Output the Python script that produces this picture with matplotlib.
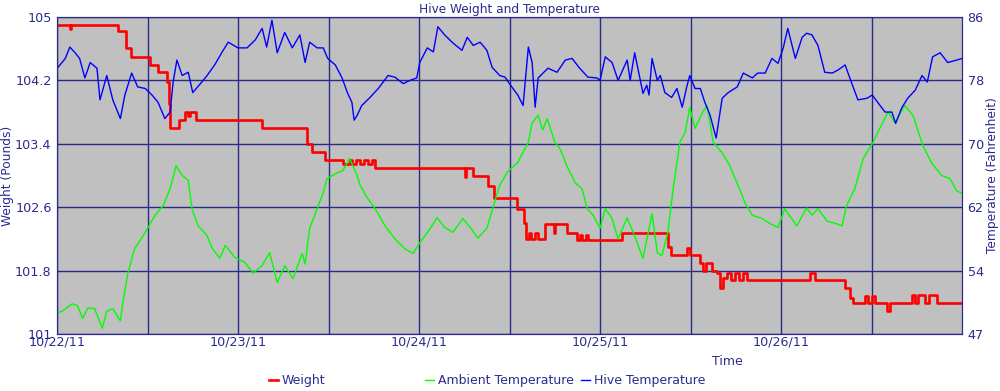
import datetime as dt
import matplotlib
matplotlib.use("Agg")
import matplotlib.pyplot as plt
import matplotlib.dates as mdates
from matplotlib.ticker import FixedLocator

# hours after 10/22/11 00:00, weight in pounds (step series)
weight_hours = [0.0, 1.7, 1.9, 8.1, 9.1, 9.8, 12.3, 13.4, 14.6, 14.8, 15.0, 16.2, 17.0, 17.4,
                17.6, 18.4, 27.2, 33.1, 33.8, 35.5, 37.9, 38.8, 39.1, 39.6, 40.2, 40.7, 41.2,
                41.8, 42.2, 54.1, 54.2, 55.2, 57.1, 57.9, 61.0, 61.9, 62.2, 62.6, 62.8, 63.4,
                63.8, 64.7, 65.9, 66.0, 67.6, 68.9, 69.3, 69.6, 70.1, 70.4, 74.9, 81.0, 81.4,
                83.5, 83.9, 85.3, 85.7, 86.0, 86.8, 87.5, 87.9, 88.3, 88.8, 89.4, 89.9, 90.4,
                91.0, 91.5, 99.8, 100.5, 104.5, 105.1, 105.5, 107.1, 107.5, 108.0, 108.5,
                110.1, 110.5, 113.4, 113.8, 114.2, 115.1, 115.6, 116.7, 120.0]
weight = [104.90, 104.85, 104.90, 104.82, 104.61, 104.49, 104.40, 104.31, 104.18, 103.90, 103.60,
          103.70, 103.80, 103.75, 103.80, 103.70, 103.60, 103.40, 103.29, 103.19, 103.15, 103.19,
          103.15, 103.19, 103.15, 103.19, 103.15, 103.19, 103.10, 102.98, 103.10, 102.99, 102.87,
          102.71, 102.58, 102.40, 102.20, 102.27, 102.20, 102.27, 102.20, 102.39, 102.28, 102.39,
          102.28, 102.19, 102.25, 102.19, 102.25, 102.19, 102.28, 102.10, 102.00, 102.09, 102.00,
          101.89, 101.80, 101.89, 101.80, 101.77, 101.58, 101.70, 101.77, 101.68, 101.77, 101.68,
          101.77, 101.68, 101.77, 101.68, 101.58, 101.45, 101.39, 101.48, 101.39, 101.48, 101.39,
          101.29, 101.39, 101.49, 101.39, 101.49, 101.39, 101.49, 101.39, 101.39]

# ambient temperature (F)
ambient_hours = [0.0, 0.7, 2.0, 2.7, 3.4, 4.1, 5.0, 6.0, 6.6, 7.4, 8.4, 8.8, 9.4, 10.3, 11.7,
                 13.0, 14.1, 15.0, 15.8, 16.6, 17.4, 17.9, 18.7, 19.9, 20.6, 21.6, 22.3, 23.6,
                 24.9, 26.0, 27.2, 28.2, 29.2, 30.2, 31.3, 32.5, 32.9, 33.5, 34.5, 35.3, 35.8,
                 36.9, 37.9, 38.8, 39.8, 40.2, 41.1, 42.2, 43.5, 44.8, 46.1, 47.2, 48.1, 49.5,
                 50.4, 51.4, 52.5, 53.8, 54.8, 55.8, 57.0, 57.8, 58.7, 59.7, 61.1, 62.5, 63.0,
                 63.8, 64.4, 65.0, 66.0, 66.7, 67.6, 68.7, 69.6, 70.3, 71.1, 72.0, 72.7, 73.6,
                 74.4, 75.6, 76.4, 77.7, 78.9, 79.6, 80.2, 81.0, 81.7, 82.6, 83.3, 83.9, 84.6,
                 85.5, 86.2, 87.0, 88.2, 89.2, 90.3, 91.2, 92.2, 93.5, 94.5, 95.6, 96.5, 98.1,
                 99.4, 100.1, 100.9, 102.1, 103.2, 104.1, 104.7, 105.8, 106.9, 108.1, 109.1,
                 110.2, 111.1, 112.4, 113.5, 114.8, 116.0, 117.3, 118.4, 119.3, 120.0]
ambient = [49.6, 49.8, 50.7, 50.5, 48.9, 50.2, 50.1, 47.7, 49.8, 50.1, 48.6, 51.3, 54.5, 57.5, 59.5,
           61.6, 62.8, 64.9, 67.7, 66.5, 65.9, 62.4, 60.3, 59.1, 57.5, 56.3, 57.9, 56.4,
           55.8, 54.5, 55.4, 57.0, 53.3, 55.4, 53.8, 56.9, 55.6, 60.0, 62.4, 64.4, 66.1,
           66.7, 67.1, 68.6, 66.5, 65.3, 63.8, 62.4, 60.3, 58.7, 57.5, 56.9, 58.2, 60.0,
           61.3, 60.1, 59.5, 61.2, 60.1, 58.8, 60.0, 62.5, 65.3, 66.9, 68.1, 70.6, 73.0,
           73.9, 72.1, 73.5, 70.6, 69.8, 67.7, 65.6, 64.9, 62.4, 61.6, 60.0, 62.4, 61.2,
           58.7, 61.3, 59.5, 56.3, 61.8, 57.0, 56.6, 59.5, 64.9, 70.6, 71.8, 74.9, 72.3,
           74.1, 75.1, 70.6, 69.3, 67.7, 65.3, 63.2, 61.6, 61.2, 60.6, 60.1, 62.4, 60.3,
           62.5, 61.6, 62.4, 60.9, 60.6, 60.3, 62.8, 64.9, 68.6, 70.4, 72.3,
           74.3, 73.0, 75.1, 73.9, 70.2, 68.0, 66.5, 66.1, 64.6, 64.3]

# hive temperature (F)
hive_hours = [0.0, 0.4, 1.1, 1.7, 2.4, 3.0, 3.7, 4.4, 5.3, 5.7, 6.6, 7.4, 8.4, 9.0, 9.9, 10.7,
              11.7, 12.6, 13.4, 14.3, 15.0, 15.4, 15.9, 16.6, 17.4, 18.0, 19.2, 19.9, 20.9,
              21.9, 22.7, 24.0, 25.2, 26.3, 27.2, 27.8, 28.5, 29.2, 30.2, 31.2, 32.2, 32.9,
              33.5, 34.5, 35.3, 35.9, 36.9, 37.8, 38.5, 39.1, 39.4, 39.8, 40.4, 41.5, 42.6,
              43.9, 44.8, 45.9, 46.8, 47.7, 48.1, 49.1, 49.9, 50.5, 51.4, 52.5, 53.7, 54.4,
              55.2, 56.1, 57.0, 57.7, 58.7, 59.4, 60.3, 61.1, 61.8, 62.5, 63.0, 63.4, 63.8,
              65.1, 66.3, 67.4, 68.3, 69.3, 70.4, 71.6, 72.0, 72.7, 73.6, 74.4, 75.6, 76.0,
              76.6, 77.7, 78.2, 78.5, 78.9, 79.6, 80.0, 80.6, 81.5, 82.2, 82.9, 83.5, 83.9,
              84.6, 85.3, 85.9, 86.6, 87.4, 88.2, 89.0, 90.2, 91.0, 92.2, 92.9, 93.9, 94.8,
              95.6, 96.3, 96.9, 97.9, 98.8, 99.4, 100.1, 100.9, 101.8, 102.8, 103.6, 104.5,
              105.4, 106.2, 107.4, 108.1, 108.9, 109.8, 110.7, 111.2, 112.0, 112.8, 113.8,
              114.7, 115.4, 116.1, 117.1, 118.1, 119.3, 120.0]
hive = [79.7, 80.1, 80.9, 82.3, 81.6, 80.9, 78.5, 80.4, 79.7, 75.8, 78.8, 75.8, 73.5, 76.4, 79.1, 77.4,
        77.2, 76.4, 75.5, 73.5, 74.3, 78.0, 80.7, 78.8, 79.2, 76.7, 78.0, 78.8, 80.1,
        81.7, 82.9, 82.2, 82.2, 83.2, 84.6, 82.3, 85.6, 81.6, 84.1, 82.2, 83.8, 80.4,
        82.9, 82.2, 82.2, 80.9, 80.1, 78.5, 76.7, 75.5, 73.3, 73.9, 75.1, 76.1, 77.2,
        78.8, 78.6, 77.8, 78.2, 78.5, 80.4, 82.2, 81.7, 84.8, 83.8, 82.8, 81.9, 83.5,
        82.5, 82.9, 81.9, 79.8, 78.8, 78.6, 77.4, 76.4, 75.1, 82.3, 80.4, 74.9, 78.5,
        79.7, 79.2, 80.7, 80.9, 79.7, 78.6, 78.5, 78.2, 81.1, 80.4, 78.2, 80.7, 78.2,
        81.6, 76.6, 77.6, 76.4, 80.9, 78.2, 78.8, 76.7, 76.1, 77.2, 74.9, 77.4, 78.8,
        77.2, 77.2, 75.5, 73.9, 71.1, 76.0, 76.7, 77.4, 79.1, 78.5, 79.1, 79.1, 80.9,
        80.3, 82.2, 84.6, 80.9, 83.5, 84.0, 83.8, 82.5, 79.2, 79.1, 79.5, 80.1,
        77.8, 75.8, 76.0, 76.4, 75.4, 74.3, 74.3, 72.9, 74.8, 76.0, 77.0,
        78.8, 78.0, 81.1, 81.6, 80.4, 80.7, 80.9]

weight_ticks = [101, 101.8, 102.6, 103.4, 104.2, 105]
weight_tick_labels = ['101', '101.8', '102.6', '103.4', '104.2', '105']
temp_tick_labels = ['47', '54', '62', '70', '78', '86']

start = dt.datetime(2011, 10, 22)


def to_time(hours):
    return [start + dt.timedelta(hours=h) for h in hours]


NAVY = '#2b2b8f'
GRID = '#2a2a8a'
plt.rcParams['font.family'] = 'DejaVu Sans'

fig = plt.figure(figsize=(10, 3.91), dpi=100)
ax = fig.add_axes([0.057, 0.146, 0.905, 0.8105])
ax.set_facecolor('#c0c0c0')
ax2 = ax.twinx()

l_w, = ax.plot(to_time(weight_hours), weight, color='#ff0000', lw=1.9,
               drawstyle='steps-post', label='Weight', zorder=3)
l_a, = ax2.plot(to_time(ambient_hours), ambient, color='#00ff00', lw=1.0,
                label='Ambient Temperature')
l_h, = ax2.plot(to_time(hive_hours), hive, color='#0000ff', lw=1.0,
                label='Hive Temperature')

ax.set_xlim(start, start + dt.timedelta(days=5))
ax.set_ylim(101, 105)
ax2.set_ylim(47, 86)

days = [mdates.date2num(start + dt.timedelta(days=d)) for d in range(5)]
halves = [mdates.date2num(start + dt.timedelta(hours=12 + 24 * d)) for d in range(5)]
ax.xaxis.set_major_locator(FixedLocator(days))
ax.xaxis.set_minor_locator(FixedLocator(halves))
ax.xaxis.set_major_formatter(mdates.DateFormatter('%m/%d/%y'))

ax.set_yticks(weight_ticks)
ax.set_yticklabels(weight_tick_labels)
temp_ticks = [47 + 39 * i / 5 for i in range(6)]
ax2.set_yticks(temp_ticks)
ax2.set_yticklabels(temp_tick_labels)

ax.grid(True, which='both', color=GRID, lw=1.0, zorder=1)
ax.set_axisbelow(True)

for a in (ax, ax2):
    a.tick_params(which='both', length=0, colors=NAVY, labelsize=9.2)
    for s in a.spines.values():
        s.set_color(GRID)
ax.tick_params(axis='x', pad=1.5)
ax.tick_params(axis='y', pad=4)
ax2.tick_params(axis='y', pad=4)

# axis labels placed where the reference has them
ax.set_ylabel('Weight (Pounds)', color=NAVY, fontsize=8.8)
ax.yaxis.set_label_coords(-0.047, 0.5)
ax2.set_ylabel('Temperature (Fahrenheit)', color=NAVY, fontsize=8.8)
ax2.yaxis.set_label_coords(1.027, 0.5)
ax.set_xlabel('Time', color=NAVY, fontsize=9)
ax.xaxis.set_label_coords(0.741, -0.068)
ax.set_title('Hive Weight and Temperature', color=NAVY, fontsize=8.7, pad=3)

fig.legend([l_w], ['Weight'], loc='center', bbox_to_anchor=(0.297, 0.026),
           frameon=False, handlelength=0.7, handletextpad=0.3, fontsize=9,
           labelcolor=NAVY)
fig.legend([l_a, l_h], ['Ambient Temperature', 'Hive Temperature'], loc='center',
           bbox_to_anchor=(0.565, 0.026), ncol=2, frameon=False, handlelength=0.7,
           handletextpad=0.3, columnspacing=0.6, fontsize=9, labelcolor=NAVY)

fig.savefig('out.png', dpi=100)
